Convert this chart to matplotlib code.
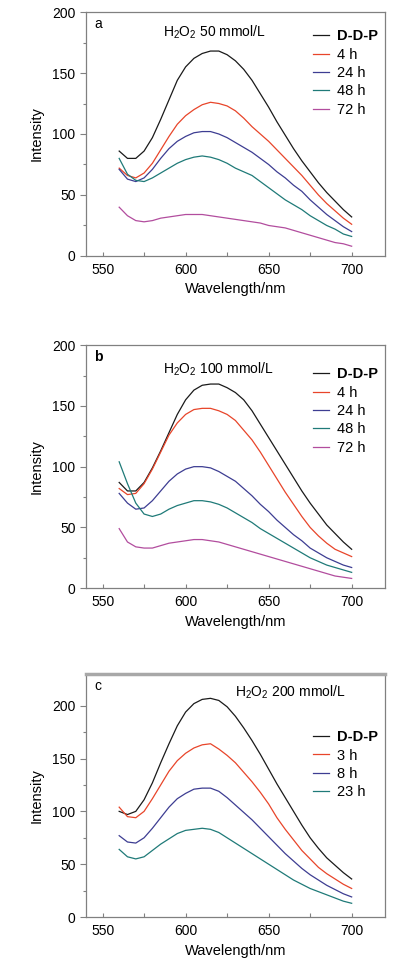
import numpy as np
import matplotlib
matplotlib.use('Agg')
import matplotlib.pyplot as plt

plt.rcParams['font.family'] = ['Liberation Sans', 'DejaVu Sans']
plt.rcParams['mathtext.fontset'] = 'custom'
plt.rcParams['mathtext.rm'] = 'Liberation Sans'

# wavelength grid (nm)
wl = list(range(560, 701, 5))

# panel a: H2O2 50 mmol/L
a_labels = ['D-D-P', '4 h', '24 h', '48 h', '72 h']
a_ddp = [86, 80, 80, 86, 97, 112, 128, 144, 155, 162, 166, 168, 168, 165, 160, 153, 144, 133, 122, 110, 99, 88, 78, 69, 60, 52, 45, 38, 32]
a_4h = [72, 66, 64, 68, 76, 87, 98, 108, 115, 120, 124, 126, 125, 123, 119, 113, 106, 100, 94, 87, 80, 73, 66, 58, 50, 43, 37, 31, 26]
a_24h = [71, 63, 61, 64, 71, 80, 88, 94, 98, 101, 102, 102, 100, 97, 93, 89, 85, 80, 75, 69, 64, 58, 53, 46, 40, 34, 29, 24, 20]
a_48h = [80, 67, 62, 61, 64, 68, 72, 76, 79, 81, 82, 81, 79, 76, 72, 69, 66, 61, 56, 51, 46, 42, 38, 33, 29, 25, 22, 18, 16]
a_72h = [40, 33, 29, 28, 29, 31, 32, 33, 34, 34, 34, 33, 32, 31, 30, 29, 28, 27, 25, 24, 23, 21, 19, 17, 15, 13, 11, 10, 8]

# panel b: H2O2 100 mmol/L
b_labels = ['D-D-P', '4 h', '24 h', '48 h', '72 h']
b_ddp = [87, 80, 80, 87, 99, 113, 128, 143, 155, 163, 167, 168, 168, 165, 161, 155, 146, 135, 124, 113, 102, 91, 80, 70, 61, 52, 45, 38, 32]
b_4h = [82, 77, 78, 86, 98, 112, 126, 136, 143, 147, 148, 148, 146, 143, 138, 130, 122, 112, 101, 90, 79, 69, 59, 50, 43, 37, 32, 29, 26]
b_24h = [78, 70, 65, 66, 72, 80, 88, 94, 98, 100, 100, 99, 96, 92, 88, 82, 76, 69, 63, 56, 50, 44, 39, 33, 29, 25, 22, 19, 17]
b_48h = [104, 86, 70, 61, 59, 61, 65, 68, 70, 72, 72, 71, 69, 66, 62, 58, 54, 49, 45, 41, 37, 33, 29, 25, 22, 19, 17, 15, 13]
b_72h = [49, 38, 34, 33, 33, 35, 37, 38, 39, 40, 40, 39, 38, 36, 34, 32, 30, 28, 26, 24, 22, 20, 18, 16, 14, 12, 10, 9, 8]

# panel c: H2O2 200 mmol/L
c_labels = ['D-D-P', '3 h', '8 h', '23 h']
c_ddp = [100, 97, 100, 111, 127, 146, 164, 181, 194, 202, 206, 207, 205, 199, 190, 179, 167, 154, 140, 126, 113, 100, 87, 75, 65, 56, 49, 42, 36]
c_3h = [104, 95, 94, 100, 112, 125, 138, 148, 155, 160, 163, 164, 159, 153, 146, 137, 128, 118, 107, 94, 83, 73, 63, 55, 47, 41, 36, 31, 27]
c_8h = [77, 71, 70, 75, 84, 94, 104, 112, 117, 121, 122, 122, 119, 113, 106, 99, 92, 84, 76, 68, 60, 53, 46, 40, 35, 30, 26, 22, 19]
c_23h = [64, 57, 55, 57, 63, 69, 74, 79, 82, 83, 84, 83, 80, 75, 70, 65, 60, 55, 50, 45, 40, 35, 31, 27, 24, 21, 18, 15, 13]

colors = ['#1a1a1a', '#e8452a', '#3d3d92', '#1f7a78', '#b24d9e']

panels = [
    ('a', 'H$_2$O$_2$ 50 mmol/L', a_labels, [a_ddp, a_4h, a_24h, a_48h, a_72h], 200),
    ('b', 'H$_2$O$_2$ 100 mmol/L', b_labels, [b_ddp, b_4h, b_24h, b_48h, b_72h], 200),
    ('c', 'H$_2$O$_2$ 200 mmol/L', c_labels, [c_ddp, c_3h, c_8h, c_23h], 230),
]

fig = plt.figure(figsize=(3.98, 9.77), dpi=100)
boxes = [(0.216, 0.738, 0.751, 0.2497), (0.216, 0.398, 0.751, 0.2487), (0.216, 0.0614, 0.751, 0.2487)]
note_pos = [(0.258, 0.915), (0.258, 0.90), (0.50, 0.925)]
leg_pos = [(1.005, 0.965), (1.005, 0.945), (1.005, 0.805)]

for i, (tag, note, labels, series, ytop) in enumerate(panels):
    ax = fig.add_axes(boxes[i])
    for k, (lab, ys) in enumerate(zip(labels, series)):
        ax.plot(wl, ys, color=colors[k], lw=0.9, label=lab)
    ax.set_xlim(540, 720)
    ax.set_ylim(0, ytop)
    ax.set_xticks([550, 600, 650, 700])
    ax.set_xticks([575, 625, 675], minor=True)
    ax.set_yticks([0, 50, 100, 150, 200])
    ax.set_yticks([25, 75, 125, 175], minor=True)
    ax.tick_params(axis='x', which='both', direction='in', length=3, width=0.8, color='#808080', labelsize=10, pad=5)
    ax.tick_params(axis='y', which='major', direction='out', length=4, width=0.8, color='#808080', labelsize=10)
    ax.tick_params(axis='y', which='minor', direction='out', length=2, width=0.8, color='#808080')
    for s in ax.spines.values():
        s.set_color('#808080')
        s.set_linewidth(0.9)
    if tag == 'c':
        ax.spines['top'].set_color('#a8a8a8')
        ax.spines['top'].set_linewidth(2.5)
    ax.set_xlabel('Wavelength/nm', fontsize=10.5, labelpad=4)
    ax.set_ylabel('Intensity', fontsize=10.5, labelpad=6)
    ax.text(0.027, 0.95, tag, transform=ax.transAxes, fontsize=10, fontweight='bold' if tag == 'b' else 'normal',
            va='center', ha='left')
    ax.text(note_pos[i][0], note_pos[i][1], note, transform=ax.transAxes, fontsize=10, va='center', ha='left')
    leg = ax.legend(loc='upper right', bbox_to_anchor=leg_pos[i], frameon=False, fontsize=10.5,
                    handlelength=1.1, handletextpad=0.5, labelspacing=0.3, borderaxespad=0.2)
    leg.get_texts()[0].set_fontweight('bold')

fig.savefig('out.png', dpi=100)
